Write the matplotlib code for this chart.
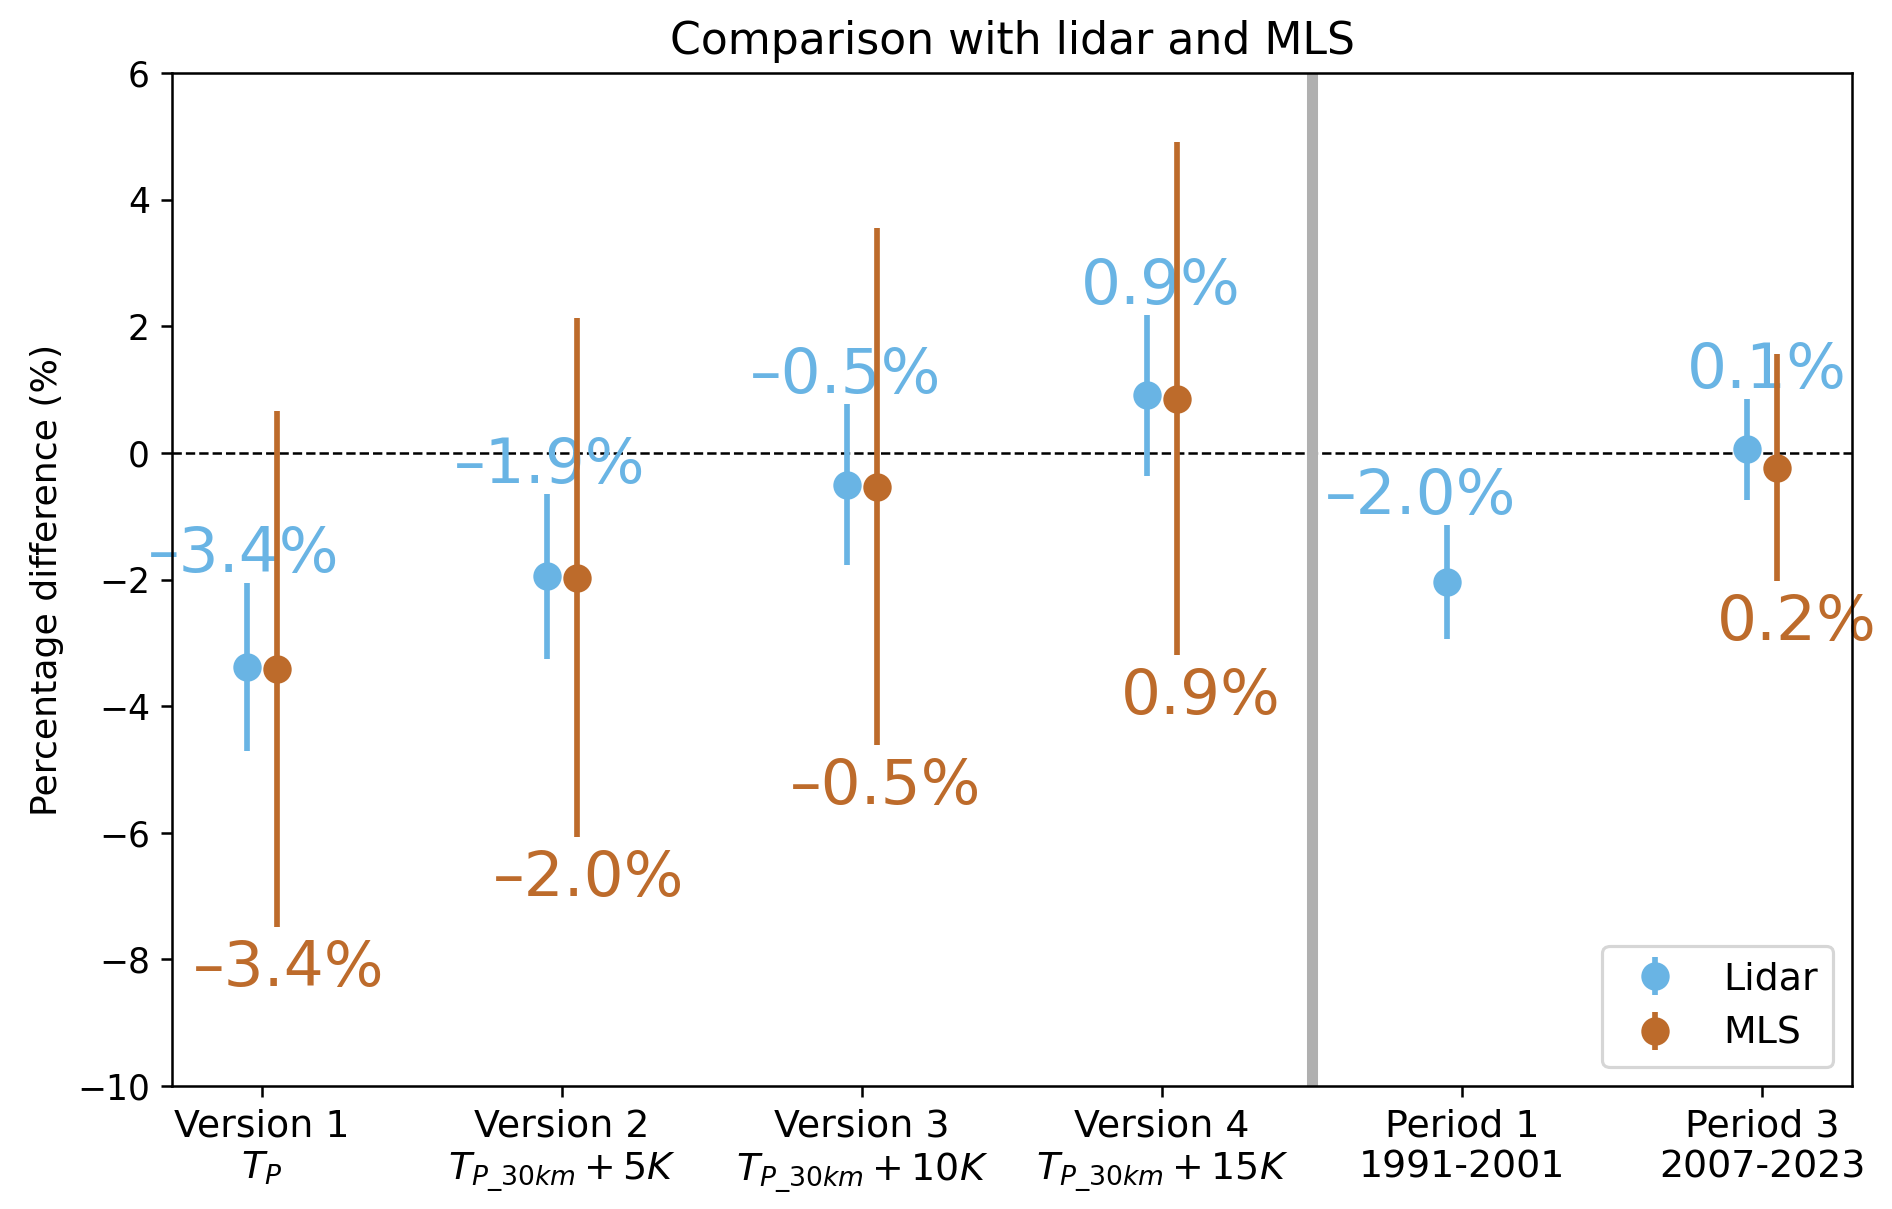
import numpy as np
import matplotlib
matplotlib.use("Agg")
import matplotlib.pyplot as plt

# ---- data ----
categories = ["Version 1\n$T_P$",
              "Version 2\n$T_{P\\_30km}+5K$",
              "Version 3\n$T_{P\\_30km}+10K$",
              "Version 4\n$T_{P\\_30km}+15K$",
              "Period 1\n1991-2001",
              "Period 3\n2007-2023"]
lidar_mean = [-3.38, -1.95, -0.50, 0.91, -2.04, 0.06]
lidar_err = [1.32, 1.30, 1.27, 1.27, 0.90, 0.80]
mls_mean = [-3.41, -1.97, -0.53, 0.86, np.nan, -0.23]
mls_err = [4.08, 4.10, 4.08, 4.05, np.nan, 1.79]
lidar_labels = ["\u20133.4%", "\u20131.9%", "\u20130.5%", "0.9%", "\u20132.0%", "0.1%"]
mls_labels = ["\u20133.4%", "\u20132.0%", "\u20130.5%", "0.9%", None, "0.2%"]

# label horizontal offsets (points, right-aligned)
lidar_dx = [29.3, 31.2, 30.0, 29.6, 22.0, 31.6]
mls_dx = [34.2, 34.0, 33.2, 33.0, 0, 31.5]

BLUE = "#69b4e4"
ORANGE = "#bd6b2b"

DPI = 227
fig = plt.figure(figsize=(1892 / DPI, 1209 / DPI), dpi=DPI)
ax = fig.add_axes([172 / 1892, 1 - 1086 / 1209, (1852 - 172) / 1892, (1086 - 73.3) / 1209])

x = np.arange(len(categories))
lm = np.array(lidar_mean); le = np.array(lidar_err)
mm = np.array(mls_mean); me = np.array(mls_err)
ok = ~np.isnan(mm)

ax.axhline(0, color="k", ls="--", lw=0.8, zorder=1)
ax.axvline(3.5, color="#b0b0b0", lw=3.5, zorder=1)

ax.errorbar(x - 0.05, lm, yerr=le, fmt="o", color=BLUE, ms=8,
            elinewidth=1.8, capsize=0, label="Lidar", zorder=3)
ax.errorbar(x[ok] + 0.05, mm[ok], yerr=me[ok], fmt="o", color=ORANGE, ms=8,
            elinewidth=1.8, capsize=0, label="MLS", zorder=3)

for i in range(len(categories)):
    ax.annotate(lidar_labels[i], xy=(x[i] - 0.05, lm[i] + le[i]),
                xytext=(lidar_dx[i], 3.5), textcoords="offset points",
                ha="right", va="baseline", fontsize=20, color=BLUE, zorder=1)
    if mls_labels[i] is not None:
        ax.annotate(mls_labels[i], xy=(x[i] + 0.05, mm[i] - me[i]),
                    xytext=(mls_dx[i], -18.7), textcoords="offset points",
                    ha="right", va="baseline", fontsize=20, color=ORANGE,
                    zorder=1, annotation_clip=False)

ax.set_xlim(-0.3, 5.3)
ax.set_ylim(-10, 6)
ax.set_xticks(x)
ax.set_xticklabels(categories, fontsize=12)
ax.tick_params(axis="y", labelsize=11)
ax.set_ylabel("Percentage difference (%)", fontsize=11.5)
ax.set_title("Comparison with lidar and MLS", fontsize=14)
ax.legend(loc="lower right", fontsize=12)

fig.savefig("out.png", dpi=DPI)
